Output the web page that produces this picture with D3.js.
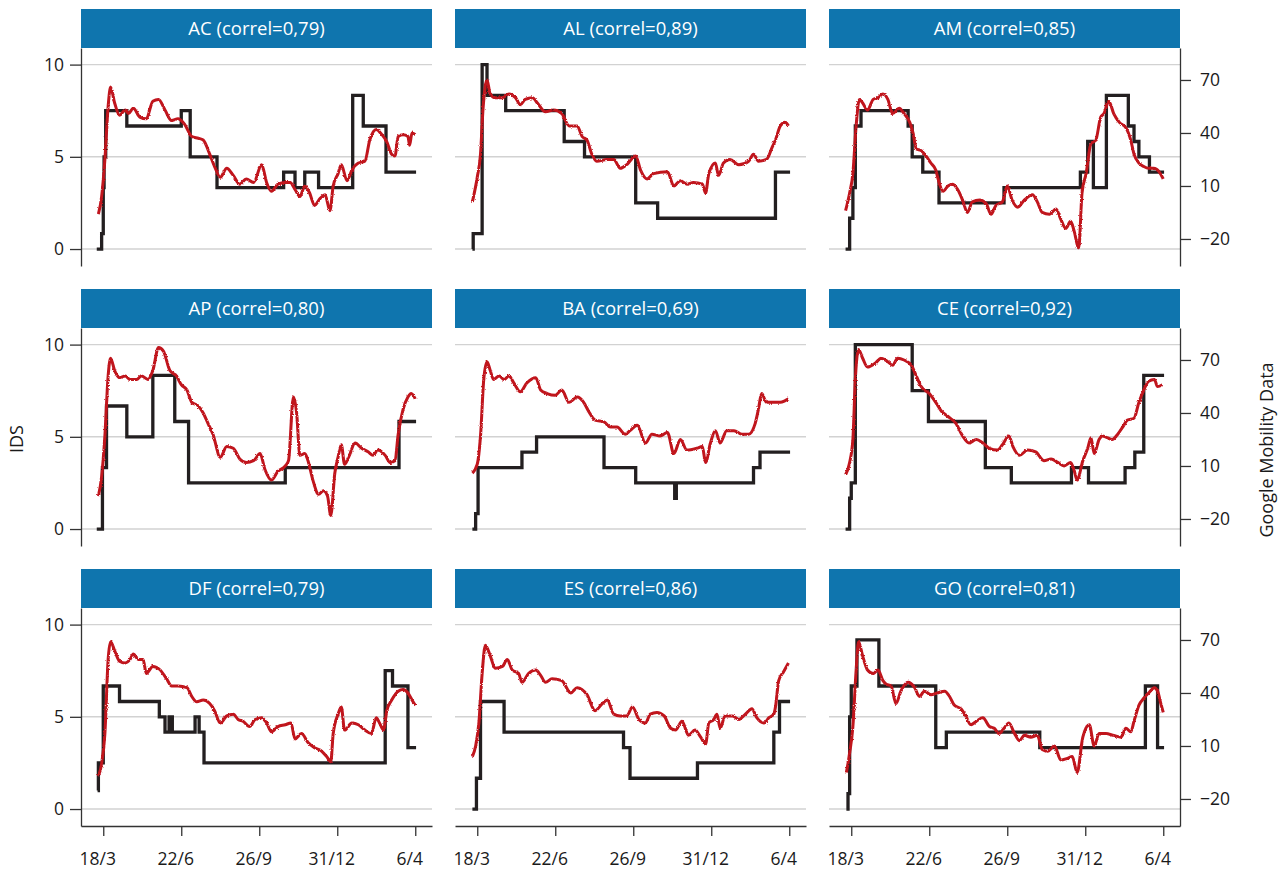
<!DOCTYPE html>
<html>
<head>
<meta charset="utf-8">
<script src="https://cdn.jsdelivr.net/npm/d3@7"></script>
<style>
  body { margin: 0; background: #fff; }
  svg text { font-family: "Open Sans", "Noto Sans", sans-serif; fill: #1a1a1a; }
  .axis path, .axis line { stroke: #333; stroke-width: 1.3; }
  .grid { stroke: #d2d2d2; stroke-width: 1.4; }
  .ids { fill: none; stroke: #231f20; stroke-width: 3.3; }
  .mob { fill: none; stroke: #c0131e; stroke-width: 3; stroke-linejoin: round; }
</style>
</head>
<body>
<div id="chart"></div>
<script>
// panels
var states  = ["AC", "AL", "AM", "AP", "BA", "CE", "DF", "ES", "GO"];
var correls = ["0,79", "0,89", "0,85", "0,80", "0,69", "0,92", "0,79", "0,86", "0,81"];

// x ticks (dates) and their labels
var tickDates  = ["2020-03-18", "2020-06-22", "2020-09-26", "2020-12-31", "2021-04-06"];
var tickLabels = ["18/3", "22/6", "26/9", "31/12", "6/4"];
var idsTicks = [0, 5, 10];
var mobTicks = [-20, 10, 40, 70];

// series: [days after 18/3/2020, value]
// IDS (left axis, step line)
var idsAC = [[-8,0],[-2,0.83],[0,3.33],[1,5],[3,7.5],[29,6.67],[96,7.5],[107,5],[140,3.33],[222,4.17],[236,3.33],[248,4.17],[265,3.33],[307,8.33],[320,6.67],[348,4.17],[385,4.17]];
var idsAL = [[-6,0],[-5,0.83],[6,10],[12,8.33],[35,7.5],[107,5.83],[132,5],[195,2.5],[222,1.67],[367,4.17],[385,4.17]];
var idsAM = [[-7,0],[-2,1.67],[2,3.33],[5,6.67],[12,7.5],[70,6.67],[75,5],[88,4.17],[108,2.5],[188,3.33],[282,4.17],[291,5.83],[298,3.33],[314,8.33],[341,6.67],[348,5.83],[354,5],[367,4.17],[385,4.17]];
var idsAP = [[-8,0],[-1,3.33],[4,6.67],[29,5],[61,8.33],[88,5.83],[105,2.5],[224,3.33],[364,5.83],[385,5.83]];
var idsBA = [[-6,0],[-2,0.83],[1,3.33],[55,4.17],[73,5],[156,3.33],[195,2.5],[243,1.67],[245,2.5],[340,3.33],[348,4.17],[385,4.17]];
var idsCE = [[-7,0],[-2,1.67],[0,2.5],[5,10],[75,7.5],[95,5.83],[165,3.33],[197,2.5],[271,3.33],[292,2.5],[337,3.33],[349,4.17],[360,8.33],[385,8.33]];
var idsDF = [[-7,1],[-6,2.5],[0,6.67],[20,5.83],[69,5],[76,4.17],[81,5],[85,4.17],[113,5],[118,4.17],[124,2.5],[347,7.5],[356,6.67],[375,3.33],[385,3.33]];
var idsES = [[-6,0],[-1,1.67],[4,5.83],[33,4.17],[180,3.33],[188,1.67],[271,2.5],[365,4.17],[372,5.83],[385,5.83]];
var idsGO = [[-6,0],[-4,0.83],[-2,5],[0,6.67],[7,9.17],[34,6.67],[104,3.33],[117,4.17],[232,3.33],[362,6.67],[377,3.33],[385,3.33]];

// Google mobility (right axis)
var mobAC = [[-6,-6],[-2,4],[2,25],[6,55],[9,66],[14,57],[20,50],[27,53],[31,51],[37,54],[45,49],[53,48],[61,58],[68,59],[76,53],[84,47],[92,48],[100,45],[109,38],[117,37],[123,36],[131,28],[137,21],[144,15],[152,20],[160,16],[168,11],[176,14],[185,12],[195,22],[201,12],[207,7],[215,11],[224,12],[230,12],[236,8],[242,4],[248,10],[254,6],[260,-1],[267,3],[273,5],[279,-4],[283,10],[289,17],[293,22],[300,13],[306,19],[314,23],[322,24],[328,36],[336,42],[343,39],[349,35],[355,28],[359,27],[363,38],[369,39],[375,38],[377,33],[380,40],[384,39]];
var mobAL = [[-6,1],[0,15],[4,28],[7,53],[12,70],[16,62],[22,60],[31,60],[39,62],[47,60],[53,56],[59,59],[68,60],[74,57],[84,52],[94,53],[104,51],[113,44],[123,44],[129,38],[135,36],[141,28],[147,24],[160,25],[168,25],[176,20],[184,22],[195,27],[201,19],[209,14],[217,17],[234,18],[242,10],[250,13],[258,11],[266,12],[277,11],[281,6],[285,17],[293,23],[297,16],[303,23],[311,25],[322,22],[334,24],[340,28],[346,24],[356,25],[363,32],[367,36],[373,44],[379,46],[383,44]];
var mobAM = [[-7,-4],[-2,6],[2,17],[6,44],[10,59],[14,57],[20,53],[27,59],[33,60],[39,62],[45,59],[51,51],[59,54],[65,51],[72,46],[76,40],[80,31],[86,30],[92,27],[98,23],[104,19],[108,12],[113,7],[119,10],[125,11],[131,8],[137,2],[143,-5],[149,1],[158,2],[166,0],[172,-6],[178,-1],[186,1],[192,10],[198,2],[205,-2],[213,2],[223,5],[229,1],[235,-5],[244,-6],[252,-3],[258,-9],[264,-14],[270,-10],[274,-15],[280,-25],[284,6],[289,17],[295,34],[301,36],[307,49],[311,51],[317,58],[323,51],[330,46],[338,43],[344,36],[348,28],[354,23],[360,21],[366,20],[372,20],[379,18],[384,14]];
var mobAP = [[-6,-7],[-2,4],[2,27],[6,61],[9,71],[14,64],[20,60],[27,61],[33,59],[41,59],[47,61],[55,59],[61,64],[68,77],[74,75],[82,64],[90,61],[96,56],[103,53],[109,46],[117,44],[123,40],[129,34],[135,28],[144,15],[152,21],[160,20],[168,14],[176,12],[185,13],[193,17],[199,8],[207,2],[215,7],[224,10],[228,13],[234,49],[238,40],[242,16],[248,17],[252,13],[258,2],[265,-6],[271,-4],[276,-7],[280,-18],[285,6],[289,15],[293,22],[297,11],[302,15],[310,23],[318,20],[326,18],[332,16],[338,19],[347,16],[353,12],[359,13],[363,28],[369,42],[375,49],[379,51],[384,48]];
var mobBA = [[-6,6],[0,11],[4,27],[8,59],[12,69],[16,64],[20,59],[27,61],[33,59],[39,61],[45,57],[53,52],[61,57],[72,60],[78,53],[86,51],[96,50],[104,53],[113,46],[123,49],[131,46],[137,41],[145,36],[156,35],[164,32],[172,32],[182,28],[188,30],[197,33],[207,23],[215,28],[225,27],[234,29],[242,17],[250,25],[258,19],[270,20],[277,21],[281,12],[287,23],[293,30],[299,23],[307,30],[316,30],[326,28],[334,28],[342,34],[346,42],[350,51],[356,46],[365,46],[373,46],[379,47],[383,48]];
var mobCE = [[-7,5],[-2,12],[2,25],[5,59],[9,76],[14,71],[20,66],[29,68],[37,71],[45,69],[51,67],[57,71],[65,70],[74,67],[80,61],[86,55],[96,51],[104,46],[111,41],[119,38],[129,34],[137,27],[145,23],[154,25],[162,23],[170,20],[180,19],[186,22],[194,27],[199,21],[207,16],[217,19],[227,18],[237,13],[246,14],[254,12],[262,10],[270,12],[274,8],[278,2],[285,13],[291,20],[295,26],[299,17],[305,25],[309,27],[315,26],[321,25],[328,28],[334,32],[340,36],[348,37],[354,46],[360,53],[366,58],[373,59],[377,55],[383,56]];
var mobDF = [[-6,-7],[-2,0],[2,17],[6,59],[9,69],[14,64],[20,58],[27,57],[33,59],[37,62],[43,59],[49,59],[53,51],[61,55],[70,53],[78,48],[84,44],[92,44],[103,43],[109,38],[115,35],[123,36],[131,34],[137,30],[144,23],[152,27],[160,28],[166,25],[172,24],[180,21],[187,25],[195,26],[201,23],[207,18],[215,21],[224,22],[231,23],[236,14],[244,17],[252,12],[260,9],[269,7],[275,4],[280,1],[283,17],[289,28],[293,32],[297,19],[306,23],[314,22],[322,19],[330,17],[336,26],[340,23],[345,19],[349,30],[355,36],[363,41],[369,42],[375,40],[380,36],[384,33]];
var mobES = [[-6,4],[-2,10],[2,23],[6,51],[10,67],[16,61],[22,54],[31,55],[37,59],[43,53],[51,51],[55,46],[63,51],[72,53],[78,50],[84,46],[92,48],[104,47],[115,40],[123,43],[135,39],[145,30],[154,34],[160,36],[168,28],[176,27],[184,27],[191,32],[199,25],[207,23],[213,28],[221,29],[230,27],[238,20],[244,19],[252,24],[260,16],[268,19],[275,15],[281,11],[285,23],[291,25],[295,28],[299,20],[305,27],[314,27],[322,25],[330,28],[338,31],[344,26],[353,23],[359,26],[365,28],[367,32],[371,47],[377,52],[383,57]];
var mobGO = [[-6,-5],[-2,6],[2,21],[6,53],[9,69],[14,61],[20,53],[27,51],[33,53],[39,47],[43,45],[49,44],[55,34],[61,41],[70,46],[78,43],[84,38],[90,41],[98,39],[106,40],[115,41],[121,38],[127,33],[135,31],[141,27],[147,22],[154,24],[162,26],[170,21],[176,20],[182,17],[188,20],[194,23],[201,17],[207,13],[213,16],[221,15],[229,16],[235,8],[242,7],[250,10],[258,2],[266,3],[272,4],[278,-5],[285,15],[293,22],[299,10],[305,17],[313,17],[323,16],[332,15],[338,20],[344,18],[348,24],[354,33],[360,37],[366,40],[373,43],[377,41],[381,34],[384,29]];

var idsSeries = [idsAC, idsAL, idsAM, idsAP, idsBA, idsCE, idsDF, idsES, idsGO];
var mobSeries = [mobAC, mobAL, mobAM, mobAP, mobBA, mobCE, mobDF, mobES, mobGO];

// Layout ///////////////////////////////////////////////
var W = 1285, H = 871;
var colX = [81, 455, 829],
    rowY = [9, 289, 569],
    pw = 351, headH = 39, ph = 218;

var parseDate = d3.timeParse("%Y-%m-%d");
var day0 = parseDate("2020-03-18");
function dayDate(d) { return new Date(day0.getTime() + d * 864e5); }

// Scales
var xScale = d3.scaleTime()
    .domain([dayDate(-27.4), dayDate(404.6)])
    .range([0, pw]);
var yLeft = d3.scaleLinear().domain([-0.92, 10.9]).range([ph, 0]);
var yRight = d3.scaleLinear().domain([-35.3, 88.1]).range([ph, 0]);

var idsLine = d3.line()
    .curve(d3.curveStepAfter)
    .x(function(d) { return xScale(dayDate(d[0])); })
    .y(function(d) { return yLeft(d[1]); });

var mobLine = d3.line()
    .curve(d3.curveMonotoneX)
    .x(function(d) { return xScale(dayDate(d[0])); })
    .y(function(d) { return yRight(d[1]); });

var svg = d3.select("#chart").append("svg")
    .attr("width", W)
    .attr("height", H);

// slightly ragged edge for the mobility line, like the printed original
var fz = svg.append("defs").append("filter")
    .attr("id", "fuzz")
    .attr("x", "-3%").attr("y", "-3%").attr("width", "106%").attr("height", "106%");
fz.append("feTurbulence")
    .attr("type", "fractalNoise").attr("baseFrequency", 1.2)
    .attr("numOctaves", 1).attr("seed", 3).attr("result", "noise");
fz.append("feDisplacementMap")
    .attr("in", "SourceGraphic").attr("in2", "noise")
    .attr("scale", 2.6)
    .attr("xChannelSelector", "R").attr("yChannelSelector", "G");

states.forEach(function(st, i) {
    var r = Math.floor(i / 3), c = i % 3;
    var g = svg.append("g")
        .attr("transform", "translate(" + colX[c] + "," + (rowY[r] + headH) + ")");

    // header
    g.append("rect")
        .attr("x", 0).attr("y", -headH)
        .attr("width", pw).attr("height", headH)
        .attr("fill", "#0f75ae");
    g.append("text")
        .attr("x", pw / 2).attr("y", -headH / 2)
        .attr("dy", "0.36em")
        .attr("text-anchor", "middle")
        .style("font-size", "18.5px")
        .style("fill", "#fff")
        .text(st + " (correl=" + correls[i] + ")");

    // gridlines on IDS values
    g.selectAll(".grid").data(idsTicks).enter().append("line")
        .attr("class", "grid")
        .attr("x1", 0).attr("x2", pw)
        .attr("y1", function(d) { return yLeft(d); })
        .attr("y2", function(d) { return yLeft(d); });

    if (c === 0) {
        g.append("g").attr("class", "axis")
            .call(d3.axisLeft(yLeft).tickValues(idsTicks).tickSize(11).tickSizeOuter(0).tickPadding(6))
            .selectAll("text").style("font-size", "17.5px");
    }
    if (c === 2) {
        g.append("g").attr("class", "axis")
            .attr("transform", "translate(" + pw + ",0)")
            .call(d3.axisRight(yRight).tickValues(mobTicks).tickSize(11).tickSizeOuter(0).tickPadding(9))
            .selectAll("text").style("font-size", "17.5px");
    }
    if (r === 2) {
        g.append("g").attr("class", "axis")
            .attr("transform", "translate(0," + ph + ")")
            .call(d3.axisBottom(xScale)
                .tickValues(tickDates.map(parseDate))
                .tickFormat(function(d, k) { return tickLabels[k]; })
                .tickSize(10).tickSizeOuter(0).tickPadding(17))
            .selectAll("text")
            .attr("dx", -6)
            .style("font-size", "17.5px");
    }

    g.append("path").datum(idsSeries[i]).attr("class", "ids").attr("d", idsLine);
    g.append("path").datum(mobSeries[i]).attr("class", "mob")
        .attr("filter", "url(#fuzz)")
        .attr("d", mobLine);
});

// axis titles
svg.append("text")
    .attr("transform", "translate(17,439) rotate(-90)")
    .attr("text-anchor", "middle")
    .attr("dy", "0.35em")
    .style("font-size", "18px")
    .text("IDS");

svg.append("text")
    .attr("transform", "translate(1267,450) rotate(-90)")
    .attr("text-anchor", "middle")
    .attr("dy", "0.35em")
    .style("font-size", "18px")
    .text("Google Mobility Data");
</script>
</body>
</html>
